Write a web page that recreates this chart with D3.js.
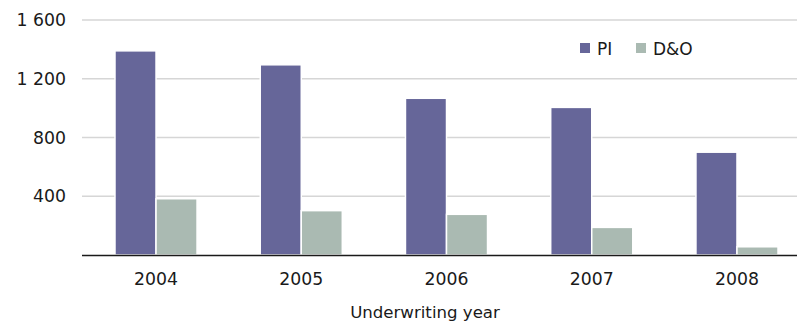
<!DOCTYPE html>
<html>
<head>
<meta charset="utf-8">
<script src="https://cdn.jsdelivr.net/npm/d3@7/dist/d3.min.js"></script>
<style>
  html, body { margin: 0; padding: 0; background: #fff; }
  svg { display: block; }
  text { font-family: "DejaVu Sans", sans-serif; fill: #1a1a1a; }
</style>
</head>
<body>
<svg id="chart" width="797" height="321"></svg>
<script>
// Underwriting years on the x axis
const years = ["2004", "2005", "2006", "2007", "2008"];
// Series values
const piValues = [1390, 1295, 1067, 1005, 700];
const doValues = [383, 302, 277, 188, 56];
const seriesNames = ["PI", "D&O"];
const seriesColors = ["#666699", "#aabab2"];
// Y axis ticks
const yTicks = [400, 800, 1200, 1600];
const yMax = 1600;

const svg = d3.select("#chart");
const W = 797, H = 321;

const plot = { left: 82, top: 20, bottom: 255 };

const x0 = d3.scaleBand()
  .domain(years)
  .range([83.4, 809.6])
  .paddingInner(0.435)
  .paddingOuter(0.2175);

const x1 = d3.scaleBand()
  .domain(seriesNames)
  .range([0, x0.bandwidth()])
  .padding(0);

const y = d3.scaleLinear()
  .domain([0, yMax])
  .range([plot.bottom, plot.top]);

const fmt = v => d3.format(",")(v).replace(/,/g, " ");

// Gridlines
svg.append("g")
  .selectAll("line")
  .data(yTicks)
  .join("line")
  .attr("x1", plot.left)
  .attr("x2", W)
  .attr("y1", d => y(d))
  .attr("y2", d => y(d))
  .attr("stroke", "#d6d6d6")
  .attr("stroke-width", 1.3);

// Y tick labels
svg.append("g")
  .selectAll("text")
  .data(yTicks)
  .join("text")
  .attr("x", 66)
  .attr("y", d => y(d))
  .attr("dy", "0.36em")
  .attr("text-anchor", "end")
  .attr("font-size", 17.3)
  .text(d => fmt(d));

// Bars
const rows = years.map((yr, i) => ({ year: yr, values: [piValues[i], doValues[i]] }));

const groups = svg.append("g")
  .selectAll("g")
  .data(rows)
  .join("g")
  .attr("transform", d => `translate(${x0(d.year)},0)`);

groups.selectAll("rect")
  .data(d => d.values.map((v, j) => ({ key: seriesNames[j], value: v, color: seriesColors[j] })))
  .join("rect")
  .attr("x", d => x1(d.key))
  .attr("width", x1.bandwidth())
  .attr("y", d => y(d.value))
  .attr("height", d => y(0) - y(d.value))
  .attr("fill", d => d.color)
  .attr("stroke", "#fff")
  .attr("stroke-width", 1.5);

// Baseline
svg.append("line")
  .attr("x1", plot.left)
  .attr("x2", W)
  .attr("y1", y(0) + 0.5)
  .attr("y2", y(0) + 0.5)
  .attr("stroke", "#1a1a1a")
  .attr("stroke-width", 1.5);

// X axis labels
svg.append("g")
  .selectAll("text")
  .data(years)
  .join("text")
  .attr("x", d => x0(d) + x0.bandwidth() / 2)
  .attr("y", 284.5)
  .attr("text-anchor", "middle")
  .attr("font-size", 17.3)
  .text(d => d);

// X axis title
svg.append("text")
  .attr("x", 425)
  .attr("y", 318)
  .attr("text-anchor", "middle")
  .attr("font-size", 16.6)
  .text("Underwriting year");

// Legend
const legend = svg.append("g");
const legendX = [580, 636];
seriesNames.forEach((name, j) => {
  legend.append("rect")
    .attr("x", legendX[j])
    .attr("y", 43)
    .attr("width", 10)
    .attr("height", 10)
    .attr("fill", seriesColors[j]);
  legend.append("text")
    .attr("x", legendX[j] + 17)
    .attr("y", 54.5)
    .attr("font-size", 17)
    .text(name);
});
</script>
</body>
</html>
